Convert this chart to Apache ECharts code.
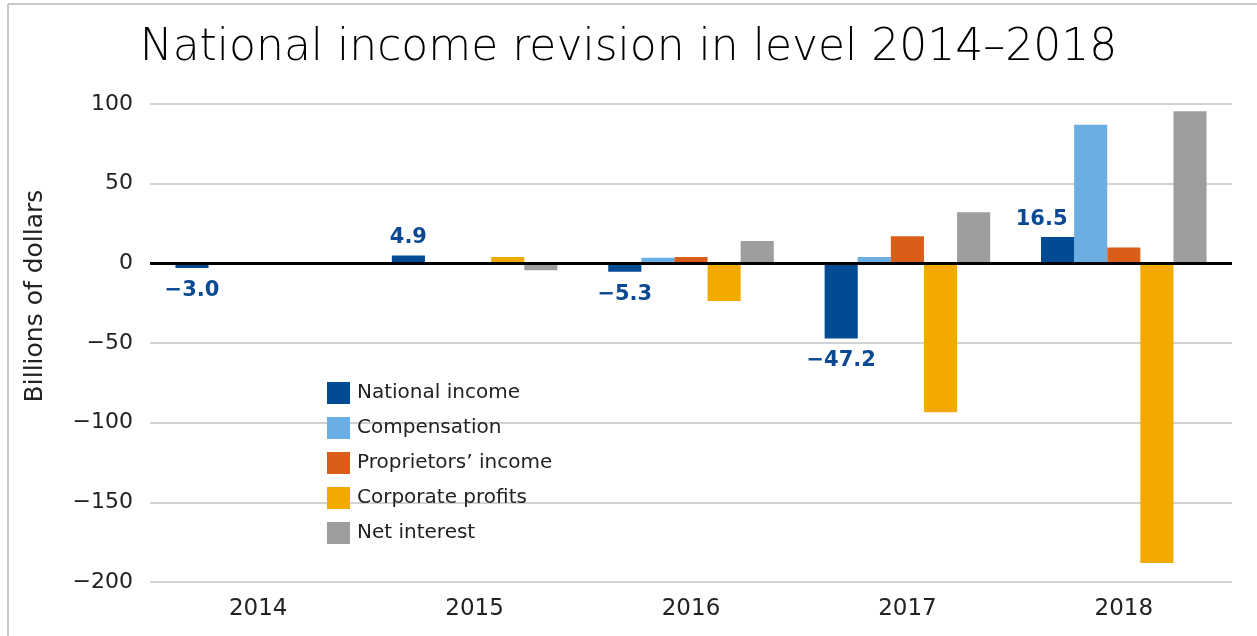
<!DOCTYPE html>
<html><head><meta charset="utf-8">
<script src="https://cdn.jsdelivr.net/npm/echarts@6/dist/echarts.min.js"></script>
<style>html,body{margin:0;padding:0;background:#fff}#c{width:1257px;height:636px}</style>
</head><body><div id="c"></div>
<script>
const categories = ['2014','2015','2016','2017','2018'];
const nationalIncome = [-3.0, 4.9, -5.3, -47.2, 16.5];
const compensation = [0.2, 0.4, 3.5, 4.0, 87];
const proprietorsIncome = [0.2, 0.2, 4.0, 17, 10];
const corporateProfits = [0.6, 4.0, -23.6, -93.5, -188];
const netInterest = [-0.6, -4.3, 14, 32, 95.5];
const yTicks = [-200, -150, -100, -50, 0, 50, 100];

const fontFam = '"DejaVu Sans", sans-serif';
const blue = '#004b93';

const niData = nationalIncome.map((v, i) => {
  const d = {value: v, label: {position: v < 0 ? 'bottom' : 'top', distance: v < 0 ? 12 : 7}};
  if (categories[i] === '2018') d.label.offset = [-16, 0];
  return d;
});

const chart = echarts.init(document.getElementById('c'));
chart.setOption({
  animation: false,
  title: {
    text: 'National income revision in level 2014\u20132018',
    left: 'center', top: 22,
    textStyle: {fontFamily: fontFam, fontSize: 44, fontWeight: 200, color: '#000'}
  },
  graphic: [
    {type: 'line', shape: {x1: 8, y1: 4, x2: 1257, y2: 4}, style: {stroke: '#c8c8c8', lineWidth: 2}},
    {type: 'line', shape: {x1: 8, y1: 4, x2: 8, y2: 636}, style: {stroke: '#c8c8c8', lineWidth: 2}},
    {type: 'text', x: 35, y: 296, rotation: Math.PI / 2,
      style: {text: 'Billions of dollars', fontFamily: fontFam, fontSize: 25, fill: '#222',
        textAlign: 'center', textVerticalAlign: 'middle'}}
  ],
  legend: {
    orient: 'vertical', left: 322, top: 377, itemWidth: 23, itemHeight: 22, itemGap: 13,
    icon: 'rect',
    textStyle: {fontFamily: fontFam, fontSize: 20, color: '#222', padding: [0, 0, 0, 2]},
    data: ['National income','Compensation',"Proprietors\u2019 income",'Corporate profits','Net interest']
  },
  grid: {left: 150, right: 25, top: 104, bottom: 54},
  xAxis: {
    type: 'category', data: categories,
    axisLine: {show: false}, axisTick: {show: false},
    axisLabel: {fontFamily: fontFam, fontSize: 23, color: '#222', margin: 16}
  },
  yAxis: {
    type: 'value', min: -200, max: 100, interval: 50,
    axisLine: {show: false}, axisTick: {show: false},
    axisLabel: {fontFamily: fontFam, fontSize: 22, color: '#222', margin: 17,
      formatter: v => yTicks.includes(v) ? (v < 0 ? '\u2212' + Math.abs(v) : String(v)) : ''},
    splitLine: {lineStyle: {color: '#d0d2d3', width: 2}}
  },
  series: [
    {name: 'National income', type: 'bar', data: niData, barGap: '0%', barCategoryGap: '23.5%',
      itemStyle: {color: blue},
      label: {show: true, fontFamily: fontFam, fontSize: 21, fontWeight: 'bold', color: '#0b4a92',
        formatter: p => (p.value < 0 ? '\u2212' : '') + Math.abs(p.value).toFixed(1)},
      markLine: {silent: true, symbol: 'none', label: {show: false}, animation: false,
        lineStyle: {color: '#000', width: 3, type: 'solid'}, data: [{yAxis: 0}]},
      z: 3},
    {name: 'Compensation', type: 'bar', data: compensation, itemStyle: {color: '#6aaee4'}},
    {name: "Proprietors\u2019 income", type: 'bar', data: proprietorsIncome, itemStyle: {color: '#d95f19'}},
    {name: 'Corporate profits', type: 'bar', data: corporateProfits, itemStyle: {color: '#f2a900'}},
    {name: 'Net interest', type: 'bar', data: netInterest, itemStyle: {color: '#9c9e9f'}}
  ]
});
</script></body></html>
